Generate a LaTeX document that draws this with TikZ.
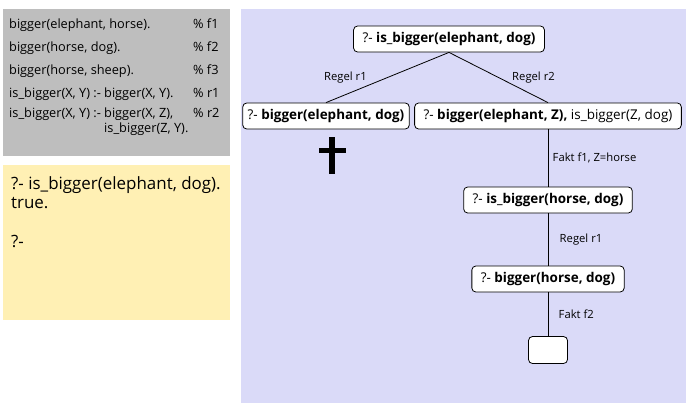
\documentclass[tikz,border=0pt]{standalone}
\usepackage{fontspec}
\setmainfont{Open Sans}
\usepackage{tikz}
\usetikzlibrary{positioning}
\definecolor{factgray}{HTML}{BEBEBE}
\definecolor{queryyellow}{HTML}{FFF0B4}
\definecolor{treeblue}{HTML}{DADAF8}
\tikzstyle{goal} = [draw, fill=white, rounded corners=4bp, line width=0.8bp, minimum height=26bp, inner xsep=9bp, font=\fontsize{13.5}{15}\selectfont]
\tikzstyle{rule} = [font=\fontsize{11.3}{13}\selectfont]
\tikzstyle{panel} = [anchor=north west, inner sep=0]

\begin{document}
\begin{tikzpicture}[x=1bp, y=-1bp, node distance=80bp]
	  \useasboundingbox (0,0) rectangle (696,417);
	  % background panels
	  \fill [factgray] (3,9) rectangle (230,156);
	  \fill [queryyellow] (3,165) rectangle (230,320);
	  \fill [treeblue] (241,9) rectangle (686,403);
	
	  \node [panel, font=\fontsize{12.8}{12}\selectfont] (facts) at (9,12) {%
	    \renewcommand{\arraystretch}{1.917}%
	    \begin{tabular}{@{}p{184bp}@{}l@{}}
	      bigger(elephant, horse). & \% f1\\
	      bigger(horse, dog). & \% f2\\
	      bigger(horse, sheep). & \% f3\\
	      is\_bigger(X, Y) :- bigger(X, Y). & \% r1\\[-2bp]
	      is\_bigger(X, Y) :- bigger(X, Z), & \% r2\\[-8bp]
	      \hphantom{is\_bigger(X, Y) :- }is\_bigger(Z, Y). &
	    \end{tabular}};
	  \node [panel, align=left, font=\fontsize{17}{19}\selectfont] (query) at (11,176)
	    {?- is\_bigger(elephant, dog).\\ true.\\[21bp] ?-};
	
	  \node [goal] (root) at (449,39) {?- \textbf{is\_bigger(elephant, dog)}};
	  \node [goal, inner xsep=5bp] (fail) at (326,116) {?- \textbf{bigger(elephant, dog)}};
	  \node [goal] (split) at (548,116) {?- \textbf{bigger(elephant, Z),} is\_bigger(Z, dog)};
	  \node [goal, below of=split, node distance=84bp] (horse) {?- \textbf{is\_bigger(horse, dog)}};
	  \node [goal, below of=horse, node distance=79bp] (fact) {?- \textbf{bigger(horse, dog)}};
	  \node [goal, below of=fact, node distance=71bp, minimum width=39bp, minimum height=27bp] (empty) {};
	
	  \draw [line width=0.8bp] (root.south) -- node [rule, left=17bp] {Regel r1} (fail.north);
	  \draw [line width=0.8bp] (root.south) -- node [rule, right=10bp] {Regel r2} (split.north);
	  \draw [line width=0.8bp] (split) -- node [rule, right=1bp] {Fakt f1, Z=horse} (horse);
	  \draw [line width=0.8bp] (horse) -- node [rule, right=8bp] {Regel r1} (fact);
	  \draw [line width=0.8bp] (fact) -- node [rule, right=7bp] {Fakt f2} (empty);
	
	  % failed branch
	  \draw [line width=5.5bp] (332,137) -- (332,174);
	  \draw [line width=5.5bp] (319,150.5) -- (346,150.5);
	\end{tikzpicture}
\end{document}
